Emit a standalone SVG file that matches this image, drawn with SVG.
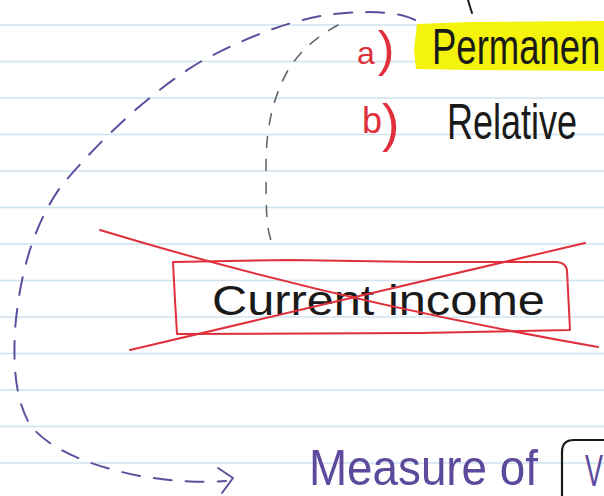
<svg xmlns="http://www.w3.org/2000/svg" width="604" height="496" viewBox="0 0 604 496">
  <defs>
    <style>
      .rule { stroke: #cfe3ee; stroke-width: 1.5; }
      .ink { font-family: "Liberation Sans", "DejaVu Sans", sans-serif; }
      .black { fill: #1a1a1a; }
      .red { fill: #e0303c; }
      .purple { fill: #5d4a9c; }
      .redline { fill: none; stroke: #e0303c; stroke-width: 2; stroke-linecap: round; stroke-linejoin: round; }
      .dash-purple { fill: none; stroke: #5d4f9e; stroke-width: 2; stroke-dasharray: 18 14; stroke-linecap: round; }
      .dash-gray { fill: none; stroke: #666666; stroke-width: 1.6; stroke-dasharray: 11 12; stroke-linecap: round; }
    </style>
  </defs>

  <rect width="604" height="496" fill="#ffffff"/>

  <g id="ruled-lines">
    <line class="rule" x1="0" y1="25" x2="604" y2="25"/>
    <line class="rule" x1="0" y1="61.5" x2="604" y2="61.5"/>
    <line class="rule" x1="0" y1="98" x2="604" y2="98"/>
    <line class="rule" x1="0" y1="134.5" x2="604" y2="134.5"/>
    <line class="rule" x1="0" y1="171" x2="604" y2="171"/>
    <line class="rule" x1="0" y1="207.5" x2="604" y2="207.5"/>
    <line class="rule" x1="0" y1="244" x2="604" y2="244"/>
    <line class="rule" x1="0" y1="280.5" x2="604" y2="280.5"/>
    <line class="rule" x1="0" y1="317" x2="604" y2="317"/>
    <line class="rule" x1="0" y1="353.5" x2="604" y2="353.5"/>
    <line class="rule" x1="0" y1="390" x2="604" y2="390"/>
    <line class="rule" x1="0" y1="426.5" x2="604" y2="426.5"/>
    <line class="rule" x1="0" y1="463" x2="604" y2="463"/>
  </g>

  <g id="tick">
    <path d="M468,0 Q470,7 472,13" fill="none" stroke="#1a1a1a" stroke-width="2" stroke-linecap="round"/>
  </g>

  <g id="permanent">
    <path d="M417,24 L470,22 L604,21 L604,71 L470,70 L416,69 L414,50 Z" fill="#f3f30c"/>
    <text class="ink red" x="357" y="64" font-size="32">a<tspan font-size="50" dx="3" dy="2">)</tspan></text>
    <text class="ink black" transform="translate(432,64) scale(1,1.38)" x="0" y="0" font-size="36.5">Permanen</text>
  </g>

  <g id="relative">
    <text class="ink red" x="362" y="133" font-size="36">b<tspan font-size="52" dx="0" dy="8">)</tspan></text>
    <text class="ink black" transform="translate(447,139) scale(1,1.4)" x="0" y="0" font-size="36">Relative</text>
  </g>

  <g id="current-income">
    <path class="redline" d="M173,262 L290,260 L420,262 L557,262 Q566,263 567,270 L570,330 L420,333 L177,334 L175,300 Z"/>
    <text class="ink black" transform="translate(212,315) scale(1.16,1)" x="0" y="0" font-size="42">Current income</text>
    <path class="redline" d="M100,230 Q330,300 598,347"/>
    <path class="redline" d="M130,350 L585,243"/>
  </g>

  <g id="measure">
    <text class="ink purple" transform="translate(309,485) scale(1.09,1.2)" x="0" y="0" font-size="42">Measure of</text>
    <path d="M616,440 L574,440 Q562,440 562,452 L562,510" fill="none" stroke="#1a1a1a" stroke-width="2.2"/>
    <text class="ink purple" transform="translate(585,486) scale(0.9,1.5)" x="0" y="0" font-size="30">V</text>
  </g>

  <g id="connectors">
    <path class="dash-gray" d="M338,25 C318,36 300,50 287,72 C272,100 266,130 266,165 C266,195 266,215 268,228 C270,240 273,245 275,250"/>
    <path class="dash-purple" d="M415,20 C400,12 375,11 345,13 C300,16 250,35 200,62 C150,92 100,140 62,185 C35,222 20,270 15,330 C13,370 16,400 30,425 C50,450 90,466 140,476 C170,481 200,483 226,481"/>
    <path d="M218,468 L233,478 L222,493" fill="none" stroke="#5d4f9e" stroke-width="2" stroke-linecap="round" stroke-linejoin="round"/>
  </g>
</svg>
